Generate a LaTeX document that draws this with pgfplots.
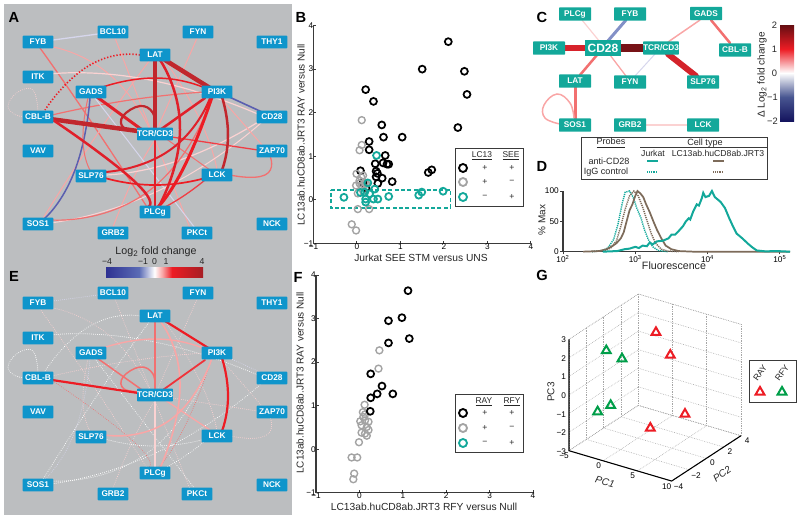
\documentclass[border=0pt]{standalone}
\usepackage{fontspec}
\setmainfont{Liberation Sans}
\usepackage{pgfplots}
\pgfplotsset{compat=1.18}
\usetikzlibrary{calc}
\newcommand\fs[1]{\fontsize{#1}{#1}\selectfont}
\definecolor{panel}{HTML}{BCBEC0}
\definecolor{nodeblue}{HTML}{0F95CB}
\definecolor{teal1}{HTML}{13A89A}
\definecolor{brown1}{HTML}{7D6B5A}
\definecolor{dred}{HTML}{C1272D}
\definecolor{mred}{HTML}{E0202A}
\definecolor{lred}{HTML}{F27070}
\definecolor{pink1}{HTML}{F9A6A6}
\definecolor{pink2}{HTML}{FBD2D2}
\definecolor{blue1}{HTML}{5B5FB0}
\definecolor{lav}{HTML}{D6D6EC}
\definecolor{axgray}{HTML}{3A3A3A}
\definecolor{mgray}{HTML}{A3A3A3}
\definecolor{gred}{HTML}{ED1C24}
\definecolor{ggreen}{HTML}{009E49}
\definecolor{cnavy}{HTML}{2E3192}
\definecolor{cblue}{HTML}{5A6BB5}
\definecolor{cdark}{HTML}{A61E24}
\definecolor{cdd}{HTML}{650E12}
\definecolor{cnn}{HTML}{14145E}
\pgfdeclarehorizontalshading{fcA}{100bp}{color(0bp)=(cnavy);color(25bp)=(cnavy);color(42bp)=(cblue);color(50bp)=(white);color(54bp)=(pink1);color(59bp)=(gred);color(75bp)=(cdark);color(100bp)=(cdark)}
\pgfdeclareverticalshading{fcC}{100bp}{color(0bp)=(cnn);color(25bp)=(cnn);color(37.5bp)=(cblue!80!black);color(50bp)=(white);color(62.5bp)=(gred);color(75bp)=(cdd);color(100bp)=(cdd)}
\newcommand\edge[3]{\addplot[no marks,smooth,tension=1,draw=#1,line width=0.75*#2pt,line cap=round] coordinates {#3};}
\newcommand\loopedge[3]{\addplot[no marks,smooth,tension=0.7,draw=#1,line width=0.75*#2pt,line cap=round] coordinates {#3};}
\newcommand\dedge[2]{\addplot[no marks,smooth,tension=1,draw=#1,line width=0.7pt,line cap=round,dash pattern=on 0.05pt off 1.5pt] coordinates {#2};}
\newcommand\nd[3]{\node[fill=nodeblue,text=white,font=\fs{6.2}\bfseries,minimum width=23pt,minimum height=9.4pt,inner sep=0pt,rounded corners=0.5pt] at (axis cs:#1,#2) {#3};}
\newcommand\cn[3]{\node[fill=teal1,text=white,font=\fs{6.2}\bfseries,minimum width=24pt,minimum height=10pt,inner sep=0pt,rounded corners=0.5pt] at (axis cs:#1,#2) {#3};}
\newcommand\tx[4][]{\node[font=\fs{#2},inner sep=0pt,text=black!85,#1] at (axis cs:#3) {#4};}
\newcommand\plab[2]{\node[font=\fs{11}\bfseries,inner sep=0pt] at (axis cs:#1) {#2};}
\newcommand\netnodes[1]{%
  \nd{38}{42+#1}{FYB}\nd{113}{32+#1}{BCL10}\nd{198}{32+#1}{FYN}\nd{272}{42+#1}{THY1}
  \nd{155}{55+#1}{LAT}\nd{38}{77+#1}{ITK}\nd{91}{92+#1}{GADS}\nd{217}{92+#1}{PI3K}
  \nd{38}{117+#1}{CBL-B}\nd{272}{117+#1}{CD28}\nd{155}{134+#1}{TCR/CD3}\nd{38}{151+#1}{VAV}
  \nd{272}{151+#1}{ZAP70}\nd{91}{176+#1}{SLP76}\nd{217}{175+#1}{LCK}\nd{155}{212+#1}{PLCg}
  \nd{38}{224+#1}{SOS1}\nd{272}{224+#1}{NCK}\nd{113}{233+#1}{GRB2}\nd{197}{233+#1}{PKCt}}
\begin{document}
\begin{tikzpicture}
\useasboundingbox (0,0) rectangle (600pt,389.25pt);
% page-wide axis in image pixels: networks, colour bars, legend boxes
\begin{axis}[at={(0pt,0pt)},anchor=south west,scale only axis,width=600pt,height=389.25pt,
  xmin=0,xmax=800,ymin=0,ymax=519,y dir=reverse,hide axis,clip=false]
\fill[panel] (axis cs:4,4) rectangle (axis cs:292,515);
% panel A
\edge{lav}{1.3}{(38,42)(113,32)}
\edge{pink1}{1}{(53,47)(110,75)(150,130)}
\edge{lred}{1.3}{(40,48)(90,120)(147,207)}
\edge{pink1}{1}{(115,38)(150,128)}
\edge{pink1}{1}{(198,36)(155,134)}
\edge{pink1}{1}{(150,60)(100,130)(42,220)}
\edge{pink1}{1}{(165,60)(200,120)(217,170)}
\edge{pink1}{1}{(155,140)(190,228)}
\edge{pink1}{1}{(113,227)(135,175)(155,140)}
\edge{pink2}{1.2}{(50,74)(150,80)(260,115)}
\edge{lred}{1.2}{(52,115)(130,100)(205,92)}
\edge{lav}{1}{(95,98)(195,228)}
\edge{blue1}{1.5}{(90,98)(75,170)(45,218)}
\edge{lred}{1}{(88,98)(83,140)(90,170)}
\edge{pink2}{1}{(50,223)(160,190)(262,122)}
\edge{pink2}{1.2}{(105,175)(180,160)(258,122)}
\edge{lred}{1.2}{(52,220)(150,190)(212,97)}
\edge{pink1}{1}{(220,97)(262,145)}
\edge{lred}{1}{(165,138)(210,170)}
\edge{gred!85}{1.3}{(165,136)(258,150)}
\edge{blue1}{1.6}{(225,95)(262,112)}
\edge{gred}{1.7}{(105,178)(155,185)(205,178)}
\edge{lred}{1.3}{(230,175)(265,175)(270,156)}
\edge{gred!85}{1.3}{(205,180)(185,195)(165,207)}
\edge{gred}{1.5}{(100,88)(155,78)(205,88)}
\edge{mred}{2}{(105,172)(170,150)(210,98)}
\edge{mred}{3}{(97,97)(145,132)}
\edge{mred}{2.5}{(160,130)(205,98)}
\loopedge{dred}{2.2}{(143,131)(124,128)(123,116)(140,106)(153,113)(155,130)}
\edge{dred}{4.5}{(50,119)(145,132)}
\edge{mred}{2.5}{(53,120)(133,180)(148,207)}
\edge{dred}{4.5}{(155,60)(155,130)}
\edge{mred}{2.5}{(160,60)(180,130)(158,208)}
\edge{dred}{4.5}{(165,60)(210,88)}
\edge{mred}{2.5}{(155,140)(155,207)}
\edge{dred}{2.5}{(222,97)(228,135)(222,170)}
\edge{gred}{3}{(212,97)(185,165)(158,207)}
\addplot[no marks,smooth,tension=1,draw=gred,line width=1.2pt,dash pattern=on 1pt off 1.4pt] coordinates {(140,55)(90,65)(45,110)};
\addplot[no marks,smooth,tension=0.7,draw=pink2,line width=0.7pt,line cap=round,dash pattern=on 0.05pt off 1.5pt] coordinates {(38,111)(33,90)(18,92)(8,105)(14,114)(25,117)};
\netnodes{0}
% panel E
\dedge{lav}{(38,303)(113,293)}
\dedge{pink2}{(53,308)(110,336)(150,391)}
\dedge{pink2}{(40,309)(90,381)(147,468)}
\dedge{pink2}{(115,299)(150,389)}
\dedge{pink2}{(198,297)(155,395)}
\dedge{white}{(140,316)(90,326)(45,371)}
\dedge{white}{(150,321)(100,391)(42,481)}
\dedge{pink2}{(165,321)(200,381)(217,431)}
\dedge{pink2}{(155,401)(190,489)}
\dedge{pink2}{(113,488)(135,436)(155,401)}
\dedge{white}{(50,335)(150,341)(260,376)}
\dedge{pink2}{(52,376)(130,361)(205,353)}
\dedge{white}{(95,359)(195,489)}
\dedge{lav}{(90,359)(75,431)(45,479)}
\dedge{pink2}{(88,359)(83,401)(90,431)}
\dedge{white}{(50,484)(160,451)(262,383)}
\dedge{white}{(52,481)(150,451)(212,358)}
\dedge{pink2}{(220,358)(262,406)}
\dedge{pink2}{(165,397)(258,411)}
\dedge{lav}{(225,356)(262,373)}
\dedge{white}{(105,439)(155,446)(205,439)}
\dedge{pink2}{(230,436)(265,436)(270,417)}
\dedge{white}{(205,441)(185,456)(165,468)}
\dedge{lred}{(53,381)(133,441)(148,468)}
\dedge{lred}{(212,358)(185,426)(158,468)}
\addplot[no marks,smooth,tension=0.7,draw=white,line width=0.7pt,line cap=round,dash pattern=on 0.05pt off 1.5pt] coordinates {(38,372)(33,351)(18,353)(8,366)(14,375)(25,378)};
\edge{pink2}{1.6}{(155,401)(155,468)}
\edge{pink1}{1.6}{(160,321)(180,385)(160,468)}
\edge{pink1}{1.4}{(100,349)(155,339)(205,349)}
\edge{lred}{1.5}{(97,358)(145,392)}
\edge{lred}{1.5}{(155,321)(155,390)}
\loopedge{lred}{1.5}{(143,392)(124,389)(123,377)(140,367)(153,374)(155,391)}
\edge{pink1}{1.5}{(212,358)(170,420)(105,435)}
\edge{pink1}{1.3}{(165,400)(210,430)}
\edge{gred!90}{1.8}{(205,360)(160,392)}
\edge{gred}{2.2}{(52,380)(145,394)}
\edge{gred}{2.2}{(165,321)(210,349)}
\edge{gred}{2.2}{(222,358)(228,396)(222,431)}
\netnodes{261}
\plab{14,17}{A}\plab{14,276}{E}\plab{301,17}{B}\plab{298,277}{F}
\plab{542,17}{C}\plab{542,166}{D}\plab{542,275}{G}
% colour bar A/E
\path[shading=fcA] (axis cs:106,267.5) rectangle (axis cs:203,277);
\tx{8}{156,252}{Log\textsubscript{2} fold change}
\tx{6.5}{107,262}{−4}\tx{6.5}{143,262}{−1}\tx{6.5}{154.5,262}{0}\tx{6.5}{166,262}{1}\tx{6.5}{202,262}{4}
% panel C network
\edge{pink2}{1.2}{(582,20)(600,42)}
\edge{cblue!75}{3}{(626,20)(607,42)}
\edge{lred}{2.5}{(597,55)(580,75)}
\edge{pink1}{1.3}{(610,55)(626,76)}
\edge{lav}{1}{(655,54)(635,76)}
\edge{pink1}{1.5}{(668,42)(700,20)}
\edge{lred}{2.5}{(711,20)(730,43)}
\edge{mred!70!dred}{6}{(549,48)(603,48)}
\edge{cdd!80!dred}{8}{(603,48)(661,48)}
\edge{mred!60!dred}{6}{(668,54)(696,76)}
\edge{lred}{3}{(575,87)(575,120)}
\loopedge{pink1}{1.5}{(574,118)(570,103)(557,94)(544,105)(545,118)(560,124)}
\edge{pink2}{1.5}{(640,125)(695,125)}
\cn{549}{48}{PI3K}\cn{575}{14}{PLCg}\cn{630}{14}{FYB}\cn{706}{13.5}{GADS}
\cn{661}{48}{TCR/CD3}\cn{735}{50}{CBL-B}\cn{575}{81}{LAT}\cn{630}{82}{FYN}
\cn{703}{82}{SLP76}\cn{575}{125}{SOS1}\cn{630}{125}{GRB2}\cn{703}{125}{LCK}
\node[fill=teal1,text=white,font=\fs{9}\bfseries,minimum width=27pt,minimum height=12pt,inner sep=0pt] at (axis cs:603,48) {CD28};
% colour bar C
\path[shading=fcC] (axis cs:780,25) rectangle (axis cs:794,121);
\tx{7}{774.5,25}{2}\tx{7}{774.5,49}{1}\tx{7}{774.5,73}{0}\tx{7}{772.5,97}{−1}\tx{7}{772.5,121}{−2}
\tx[rotate=90]{7.5}{762,75}{Δ Log\textsubscript{2} fold change}
% panel D legend
\draw[axgray,line width=0.7pt] (axis cs:581,137) rectangle (axis cs:767,179.5);
\draw[axgray,line width=0.4pt] (axis cs:640,147.3) -- (axis cs:767,147.3);
\tx{6.8}{611,143}{\underline{Probes}}\tx{6.8}{705,143}{Cell type}
\tx{6.5}{653,153}{Jurkat}\tx{6.5}{718,153}{LC13ab.huCD8ab.JRT3}
\tx{6.8}{609,161}{anti-CD28}\tx{6.8}{606,172}{IgG control}
\addplot[no marks,teal1,line width=1.5pt] coordinates {(647,161)(658,161)};
\addplot[no marks,brown1,line width=1.5pt] coordinates {(713,161)(724,161)};
\addplot[no marks,teal1,line width=1.5pt,dash pattern=on 0.7pt off 0.7pt] coordinates {(647,172)(658,172)};
\addplot[no marks,brown1,line width=1.5pt,dash pattern=on 0.7pt off 0.7pt] coordinates {(713,172)(724,172)};
% panel B legend
\draw[axgray,line width=0.7pt] (axis cs:455,148) rectangle (axis cs:523,206);
\tx{6.3}{482,156}{\underline{LC13}}\tx{6.3}{511,156}{\underline{SEE}}
\addplot[only marks,mark=o,mark size=3pt,mark options={draw=black,line width=1.4pt}] coordinates {(463,168)};
\addplot[only marks,mark=o,mark size=3pt,mark options={draw=mgray,line width=1.4pt}] coordinates {(463,182)};
\addplot[only marks,mark=o,mark size=3pt,mark options={draw=teal1,line width=1.4pt}] coordinates {(463,197)};
\tx{6.5}{485,168}{+}\tx{6.5}{512,168}{+}\tx{6.5}{485,182}{+}\tx{6.5}{512,182}{−}\tx{6.5}{485,197}{−}\tx{6.5}{512,197}{+}
\tx[rotate=90]{7.5}{301,135}{LC13ab.huCD8ab.JRT3 RAY versus Null}
\tx{7.7}{421,258}{Jurkat SEE STM versus UNS}
% panel F legend
\draw[axgray,line width=0.7pt] (axis cs:455,394) rectangle (axis cs:523,452);
\tx{6.3}{484,402}{\underline{RAY}}\tx{6.3}{512,402}{\underline{RFY}}
\addplot[only marks,mark=o,mark size=3pt,mark options={draw=black,line width=1.4pt}] coordinates {(463,413)};
\addplot[only marks,mark=o,mark size=3pt,mark options={draw=mgray,line width=1.4pt}] coordinates {(463,428)};
\addplot[only marks,mark=o,mark size=3pt,mark options={draw=teal1,line width=1.4pt}] coordinates {(463,443)};
\tx{6.5}{485,413}{+}\tx{6.5}{512,413}{+}\tx{6.5}{485,428}{+}\tx{6.5}{512,428}{−}\tx{6.5}{485,443}{−}\tx{6.5}{512,443}{+}
\tx[rotate=90]{7.5}{300,383}{LC13ab.huCD8ab.JRT3 RAY versus Null}
\tx{7.7}{424,507}{LC13ab.huCD8ab.JRT3 RFY versus Null}
% panel D texts
\tx[rotate=90]{7.5}{542,220}{\% Max}
\tx{8}{674,266}{Fluorescence}
% panel G legend and labels
\draw[axgray,line width=0.7pt] (axis cs:749,360) rectangle (axis cs:796,402);
\tx[rotate=55]{6.5}{760,373}{RAY}\tx[rotate=55]{6.5}{782,373}{RFY}
\addplot[only marks,mark=triangle,mark size=3.8pt,mark options={draw=gred,line width=1.5pt}] coordinates {(760,392)};
\addplot[only marks,mark=triangle,mark size=3.8pt,mark options={draw=ggreen,line width=1.5pt}] coordinates {(782,392)};
\tx[rotate=90]{7.5}{551,392}{PC3}
\tx[rotate=-15]{7.5}{605,482}{\itshape PC1}
\tx[rotate=35]{7.5}{722,474}{\itshape PC2}
\end{axis}
% panel B
\begin{axis}[at={(235.1pt,206.6pt)},anchor=south west,scale only axis,width=163.1pt,height=163.5pt,
  xmin=-1,xmax=4,ymin=-1,ymax=4,axis lines*=left,clip=false,
  axis line style={axgray,line width=0.9pt,-},tick style={axgray,line width=0.7pt},tick align=inside,major tick length=2pt,
  xtick={-1,0,1,2,3,4},ytick={-1,0,1,2,3,4},xticklabels={−1,0,1,2,3,4},yticklabels={−1,0,1,2,3,4},
  tick label style={font=\fs{6.2},inner sep=1pt},xticklabel style={yshift=1pt},yticklabel style={xshift=1pt}]
\addplot[only marks,mark=o,mark size=2.6pt,mark options={draw=black,line width=1.3pt}] coordinates {
(2.10,3.63)(1.50,3.00)(2.47,2.95)(0.20,2.53)(2.53,2.42)(0.38,2.26)(2.32,1.66)(0.57,1.72)(0.61,1.44)(1.04,1.44)
(0.28,1.34)(0.28,1.15)(0.65,1.02)(0.42,0.83)(0.60,0.85)(0.73,0.82)(0.69,0.82)(0.08,0.67)(0.44,0.66)(0.47,0.61)
(0.58,0.50)(0.44,0.53)(1.72,0.69)(1.64,0.63)(0.81,0.42)(0.48,0.38)(0.21,0.27)(0.14,0.40)};
\addplot[only marks,mark=o,mark size=2.6pt,mark options={draw=mgray,line width=1.05pt}] coordinates {
(0.11,1.83)(0.11,1.26)(0.06,1.14)(-0.01,0.60)(0.14,0.56)(0.06,0.44)(0.18,0.40)(-0.02,0.33)(0.10,0.33)(0.21,0.37)
(0.02,0.15)(0.14,0.21)(0.28,-0.21)(0.02,-0.21)(-0.12,-0.56)(-0.02,-0.70)(0.06,0.38)(0.10,0.52)};
\addplot[only marks,mark=o,mark size=2.6pt,mark options={draw=teal1,line width=1.35pt}] coordinates {
(0.45,1.02)(-0.30,0.06)(0.25,0.39)(0.41,0.25)(0.08,0.17)(0.18,0.18)(0.29,0.14)(0.38,0.02)(0.48,0.02)(0.73,0.08)
(0.20,-0.05)(0.20,0.02)(1.42,0.11)(1.49,0.18)(1.98,0.20)};
\addplot[no marks,teal1,line width=1.4pt,dash pattern=on 3pt off 1.8pt] coordinates {(-0.605,0.237)(2.15,0.237)(2.15,-0.183)(-0.605,-0.183)(-0.605,0.237)};
\end{axis}
% panel F
\begin{axis}[at={(237pt,19.7pt)},anchor=south west,scale only axis,width=162.75pt,height=163.3pt,
  xmin=-1,xmax=4,ymin=-1,ymax=4,axis lines*=left,clip=false,
  axis line style={axgray,line width=0.9pt,-},tick style={axgray,line width=0.7pt},tick align=inside,major tick length=2pt,
  xtick={-1,0,1,2,3,4},ytick={-1,0,1,2,3,4},xticklabels={−1,0,1,2,3,4},yticklabels={−1,0,1,2,3,4},
  tick label style={font=\fs{6.2},inner sep=1pt},xticklabel style={yshift=1pt},yticklabel style={xshift=1pt}]
\addplot[only marks,mark=o,mark size=2.6pt,mark options={draw=mgray,line width=1.05pt}] coordinates {
(0.46,2.27)(0.44,1.85)(0.12,1.02)(0.08,0.85)(0.13,0.80)(0.09,0.74)(0.02,0.64)(0.13,0.66)(0.21,0.63)(0.05,0.55)
(0.17,0.51)(0.21,0.44)(0.05,0.38)(0.13,0.36)(0.17,0.31)(-0.01,0.16)(-0.18,-0.19)(-0.05,-0.19)(-0.12,-0.56)(-0.14,-0.69)};
\addplot[only marks,mark=o,mark size=2.6pt,mark options={draw=black,line width=1.3pt}] coordinates {
(1.12,3.64)(0.98,3.02)(0.67,2.95)(1.15,2.54)(0.67,2.44)(0.26,1.73)(0.52,1.45)(0.41,1.27)(0.77,1.27)(0.26,1.18)(0.25,0.87)};
\end{axis}
% panel D
\begin{axis}[at={(422.25pt,200.5pt)},anchor=south west,scale only axis,width=170.25pt,height=45.5pt,
  xmin=2,xmax=5.14,ymin=0,ymax=100,axis lines*=left,clip=false,
  axis line style={axgray,line width=0.8pt,-},tick style={axgray,line width=0.6pt},tick align=outside,major tick length=2pt,
  xtick={2,3,4,5},xticklabels={10\textsuperscript{2},10\textsuperscript{3},10\textsuperscript{4},10\textsuperscript{5}},ytick={0,50,100},yticklabels={0,50,100},
  tick label style={font=\fs{6.2},inner sep=1pt},xticklabel style={yshift=0.5pt}]
\addplot[no marks,teal1,line width=1.1pt,dash pattern=on 0.9pt off 0.7pt] coordinates {
(2.40,0)(2.55,2)(2.62,6)(2.70,20)(2.76,45)(2.82,80)(2.86,98)(2.92,100)(2.97,90)(3.02,72)(3.08,55)(3.13,35)(3.18,20)(3.24,8)(3.32,2)(3.45,0)};
\addplot[no marks,brown1,line width=1.1pt,dash pattern=on 0.9pt off 0.7pt] coordinates {
(2.40,0)(2.58,2)(2.66,6)(2.74,18)(2.80,42)(2.86,70)(2.92,92)(2.98,100)(3.04,92)(3.10,74)(3.16,52)(3.22,30)(3.28,14)(3.36,4)(3.45,1)(3.60,0)};
\addplot[no marks,brown1,line width=1.3pt] coordinates {
(2.28,0)(2.50,1)(2.60,4)(2.68,9)(2.74,14)(2.80,22)(2.84,32)(2.88,50)(2.92,68)(2.96,78)(3.00,92)(3.03,100)(3.07,96)(3.11,90)(3.15,78)(3.20,65)(3.25,50)(3.30,36)(3.36,22)(3.42,10)(3.50,4)(3.60,1)(3.80,0)(5.14,0)};
\addplot[no marks,teal1,line width=1.5pt] coordinates {
(2.55,0)(2.75,1)(2.85,4)(2.92,5)(3.00,8)(3.05,6)(3.10,10)(3.16,9)(3.20,15)(3.24,12)(3.30,17)(3.38,18)(3.46,22)(3.50,28)(3.55,28)(3.60,34)(3.66,42)(3.70,50)(3.74,55)(3.76,53)(3.80,66)(3.85,78)(3.88,76)(3.92,88)(3.94,97)(3.97,90)(4.02,92)(4.06,100)(4.10,90)(4.14,86)(4.18,82)(4.24,72)(4.30,55)(4.35,42)(4.40,30)(4.48,22)(4.56,13)(4.62,7)(4.68,2)(4.80,0.5)(4.95,1)(5.14,0)};
\end{axis}
% panel G
\begin{axis}[at={(478.4pt,102.4pt)},anchor=origin,x={(5.133pt,-1.517pt)},y={(6.5pt,4.25pt)},z={(0pt,13.92pt)},
  xmin=-5,xmax=10,ymin=-4,ymax=4,zmin=-3,zmax=3,clip=false,
  axis line style={black!35,dash pattern=on 0.5pt off 0.8pt,line width=0.4pt},
  xmajorgrids,ymajorgrids,zmajorgrids,
  major grid style={black!35,dash pattern=on 0.5pt off 0.8pt,line width=0.4pt},
  xtick style={draw=none},ytick style={draw=none},ztick style={draw=none},
  xtick={-5,0,5,10},ytick={-4,-2,0,2,4},ztick={-3,-2,-1,0,1,2,3},
  xticklabels={−5,0,5,10},yticklabels={−4,−2,0,2,4},zticklabels={−3,−2,−1,0,1,2,3},
  tick label style={font=\fs{6.2},inner sep=1pt},
  xticklabel style={xshift=-1.5pt},yticklabel style={xshift=2pt},zticklabel style={xshift=-1pt}]
\addplot3[no marks,black,line width=0.8pt] coordinates {(-5,-4,3)(-5,-4,-3)(10,-4,-3)(10,4,-3)};
\addplot3[only marks,mark=triangle,mark size=3.8pt,mark options={draw=gred,line width=1.5pt}] coordinates {
(0.11,2,2.10)(0.94,3,0.66)(4.35,2,-1.84)(1.82,0,-2.26)};
\addplot3[only marks,mark=triangle,mark size=3.8pt,mark options={draw=ggreen,line width=1.5pt}] coordinates {
(-2.08,-2,2.10)(-1.05,-1,1.47)(-1.44,-2,-0.78)(-2.08,-3,-0.89)};
\end{axis}
\end{tikzpicture}
\end{document}
